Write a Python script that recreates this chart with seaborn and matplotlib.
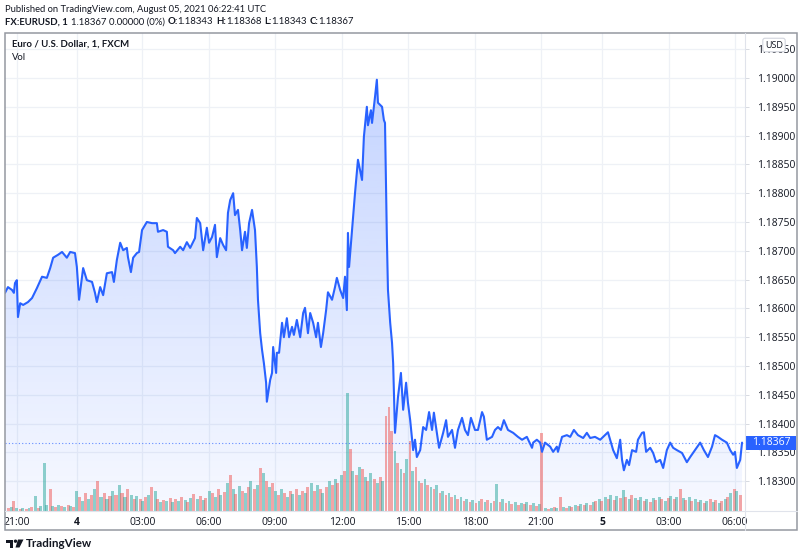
import numpy as np
import pandas as pd
import matplotlib
matplotlib.use("Agg")
import matplotlib.pyplot as plt
import matplotlib.transforms as mtransforms
from matplotlib.patches import Polygon, Rectangle, Circle
import seaborn as sns

# ---------------- data (1-minute bar index since chart start, close price) ----------------
t1 = [0, 8, 19, 24, 27, 32, 35, 41, 49, 62,
      73, 86, 100, 113, 122, 130, 143, 154, 167, 176,
      189, 194, 200, 211, 221, 235, 243, 248, 257, 265,
      275, 289, 294, 302, 311, 319, 329, 332, 340, 346,
      356, 362, 370, 383, 397, 410, 413, 427, 437, 440,
      454, 459, 473, 481, 491, 500, 513]
p1 = [1.18627, 1.18637, 1.18632, 1.18627, 1.18644, 1.18649, 1.18585, 1.18609, 1.18606, 1.18611,
      1.18618, 1.18635, 1.18655, 1.18653, 1.18670, 1.18688, 1.18693, 1.18698, 1.18688, 1.18698,
      1.18696, 1.18672, 1.18615, 1.18670, 1.18649, 1.18646, 1.18627, 1.18611, 1.18637, 1.18623,
      1.18661, 1.18663, 1.18646, 1.18684, 1.18714, 1.18701, 1.18705, 1.18689, 1.18663, 1.18688,
      1.18696, 1.18698, 1.18736, 1.18750, 1.18748, 1.18748, 1.18733, 1.18736, 1.18733, 1.18707,
      1.18701, 1.18696, 1.18707, 1.18701, 1.18715, 1.18705, 1.18722]

t2 = [518, 527, 535, 545, 551, 559, 567, 572, 581, 589,
      597, 602, 608, 616, 621, 629, 635, 640, 648, 653,
      659, 667, 675, 680, 683, 689, 694, 699, 705, 707,
      716, 721, 724, 732, 734, 740, 748, 753, 761, 767,
      775, 780, 788, 797, 805, 810, 818, 824, 832, 840,
      845, 853, 859, 867, 872, 883, 891, 896, 905, 913,
      918]
p2 = [1.18757, 1.18748, 1.18701, 1.18740, 1.18714, 1.18724, 1.18745, 1.18689, 1.18722, 1.18710,
      1.18701, 1.18766, 1.18788, 1.18800, 1.18762, 1.18771, 1.18736, 1.18701, 1.18733, 1.18705,
      1.18748, 1.18771, 1.18736, 1.18672, 1.18615, 1.18557, 1.18528, 1.18505, 1.18471, 1.18438,
      1.18476, 1.18488, 1.18533, 1.18488, 1.18523, 1.18523, 1.18575, 1.18550, 1.18583, 1.18550,
      1.18568, 1.18554, 1.18580, 1.18550, 1.18592, 1.18601, 1.18557, 1.18592, 1.18575, 1.18550,
      1.18575, 1.18533, 1.18557, 1.18597, 1.18628, 1.18615, 1.18637, 1.18653, 1.18632, 1.18618,
      1.18655]

t3 = [923, 926, 929, 937, 945, 953, 964, 969, 977, 980,
      988, 991, 999, 1004, 1007, 1018, 1023, 1026, 1031, 1034,
      1040, 1045, 1048, 1053, 1061, 1069, 1075, 1083, 1088, 1094,
      1102, 1107, 1112, 1121, 1129, 1137, 1145, 1153, 1158, 1166,
      1172, 1183, 1191, 1196, 1207, 1215, 1223, 1234, 1242, 1250,
      1258, 1269, 1277, 1288, 1293, 1301, 1315, 1323, 1331, 1339,
      1347, 1358, 1372, 1385, 1396, 1409, 1423]
p3 = [1.18597, 1.18731, 1.18672, 1.18736, 1.18800, 1.18858, 1.18823, 1.18898, 1.18950, 1.18918,
      1.18944, 1.18922, 1.18967, 1.18997, 1.18957, 1.18950, 1.18927, 1.18922, 1.18724, 1.18632,
      1.18575, 1.18540, 1.18505, 1.18384, 1.18446, 1.18488, 1.18424, 1.18471, 1.18436, 1.18406,
      1.18354, 1.18372, 1.18342, 1.18354, 1.18394, 1.18389, 1.18420, 1.18389, 1.18419, 1.18384,
      1.18358, 1.18384, 1.18406, 1.18377, 1.18389, 1.18358, 1.18389, 1.18410, 1.18389, 1.18380,
      1.18410, 1.18389, 1.18389, 1.18420, 1.18412, 1.18372, 1.18377, 1.18389, 1.18394, 1.18389,
      1.18406, 1.18389, 1.18384, 1.18377, 1.18372, 1.18377, 1.18358]

t4 = [1426, 1436, 1445, 1450, 1458, 1472, 1480, 1490, 1493, 1504,
      1517, 1526, 1536, 1547, 1561, 1571, 1580, 1593, 1607, 1615,
      1628, 1634, 1642, 1652, 1661, 1666, 1671, 1679, 1685, 1693,
      1704, 1709, 1720, 1725, 1731, 1742, 1750, 1758, 1769, 1777,
      1787, 1796, 1804, 1814, 1828, 1841, 1850, 1863, 1877, 1887,
      1898, 1909, 1917, 1925, 1936, 1949, 1958, 1966, 1971, 1976,
      1985, 1990]
p4 = [1.18367, 1.18372, 1.18367, 1.18351, 1.18367, 1.18360, 1.18351, 1.18360, 1.18351, 1.18377,
      1.18380, 1.18377, 1.18389, 1.18380, 1.18375, 1.18384, 1.18375, 1.18377, 1.18372, 1.18377,
      1.18385, 1.18372, 1.18354, 1.18340, 1.18372, 1.18337, 1.18319, 1.18337, 1.18328, 1.18354,
      1.18351, 1.18372, 1.18384, 1.18385, 1.18351, 1.18358, 1.18349, 1.18333, 1.18337, 1.18323,
      1.18354, 1.18367, 1.18358, 1.18354, 1.18349, 1.18333, 1.18342, 1.18354, 1.18367, 1.18354,
      1.18342, 1.18360, 1.18380, 1.18377, 1.18372, 1.18367, 1.18354, 1.18346, 1.18351, 1.18323,
      1.18337, 1.18367]

# volume per 8.1-minute bucket (arbitrary units)
volume = [3, 4, 10, 3, 2, 3, 2, 3, 4, 15, 3, 5, 48, 6, 22, 5, 4, 6, 5, 4, 6, 5, 4,
          20, 14, 10, 18, 12, 16, 22, 30, 14, 18, 12, 15, 20, 16, 26, 18, 14, 22, 16, 12, 15,
          12, 10, 14, 16, 24, 20, 12, 9, 11, 10, 13, 9, 12, 10, 14, 11, 9, 13, 17, 12, 15, 11, 13, 20,
          18, 14, 22, 16, 19, 28, 36, 22, 17, 25, 20, 18, 24, 30, 22, 26, 43,
          38, 30, 24, 28, 20, 16, 22, 18, 14, 20, 17, 22, 16, 20, 18, 24,
          28, 20, 26, 22, 18, 24, 30, 26, 32, 28, 36, 40,
          118, 62, 40, 36, 44, 42, 34, 30, 38, 32, 28, 34, 30,
          95, 104, 80, 60, 48, 42, 38, 52, 70, 40, 44, 30, 28, 32, 26, 24, 22, 26,
          18, 20, 16, 18, 14, 16, 12, 14, 10, 12, 9, 11, 8, 10, 12, 9, 11, 8, 10, 27,
          9, 12, 8, 10, 7, 9, 6, 8, 7, 9, 6, 8, 5, 7,
          78, 3, 2, 3, 4, 3, 14, 4, 3, 5, 4, 6, 5, 7, 6, 8, 6, 9, 10,
          12, 10, 14, 12, 16, 11, 15, 13, 21, 14, 12, 16, 13, 11, 14, 10, 12, 9, 13, 11,
          14, 12, 10, 13, 15, 12, 14, 22, 13, 11, 14, 10, 12, 9, 11, 8, 10, 12, 9, 11,
          8, 10, 12, 14, 18, 22, 20, 16]
vol_bucket_minutes = 8.1
vol_teal_override = [12, 113]
vol_red_override = [114, 126, 127, 128, 178]

tick_bars = [32, 194, 371, 551, 729, 910, 1088, 1269, 1447, 1612, 1793, 1971]
tick_labels = ["21:00", "4", "03:00", "06:00", "09:00", "12:00", "15:00", "18:00", "21:00", "5", "03:00", "06:00"]
bold_ticks = ["4", "5"]
price_ticks = [1.18300, 1.18350, 1.18400, 1.18450, 1.18500, 1.18550, 1.18600, 1.18650,
               1.18700, 1.18750, 1.18800, 1.18850, 1.18900, 1.18950, 1.19000, 1.19050]
last_price = 1.18367

header_line1 = "Published on TradingView.com, August 05, 2021 06:22:41 UTC"
header_line2 = [("FX:EURUSD, 1", True, 3), ("1.18367 0.00000 (0%)", False, 3),
                ("O:", True, 0), ("1.18343", False, 3), ("H:", True, 0), ("1.18368", False, 3),
                ("L:", True, 0), ("1.18343", False, 3), ("C:", True, 0), ("1.18367", False, 0)]
chart_title = "Euro / U.S. Dollar, 1, FXCM"

# ---------------- assemble ----------------
bar = np.array(t1 + t2 + t3 + t4, dtype=float)
price = np.array(p1 + p2 + p3 + p4)
df = pd.DataFrame({"bar": bar, "close": price})
volume = np.array(volume, dtype=float)
vol_t = (np.arange(len(volume)) + 1) * vol_bucket_minutes

sns.set_theme(style="white")
plt.rcParams["font.family"] = ["Open Sans", "DejaVu Sans"]
HFONT = ["Lato", "DejaVu Sans"]

W, H = 800, 558
fig = plt.figure(figsize=(8, 5.58), dpi=100)
fig.patch.set_facecolor("white")
PX = mtransforms.Affine2D().scale(1 / W, -1 / H).translate(0, 1) + fig.transFigure
renderer = fig.canvas.get_renderer()

TEXT = "#131722"
BLUE = "#2962ff"
GRID = "#eef1f6"

left, right, top, bottom = 5, 745, 33, 511
rect = [left / W, 1 - bottom / H, (right - left) / W, (bottom - top) / H]
ax = fig.add_axes(rect)
ax_v = ax.twinx()
ax_l = ax.twinx()

xlim = (0, 1998)
ylim = (1.182483, 1.190781)
for a in (ax, ax_l):
    a.set_xlim(*xlim)
    a.set_ylim(*ylim)
ax_v.set_ylim(0, 478)

# grid
for p in price_ticks:
    ax.axhline(p, color=GRID, lw=0.9, zorder=0.5)
for tb in tick_bars:
    ax.axvline(tb, color=GRID, lw=0.9, zorder=0.5)

# gradient area fill
verts = np.vstack([[bar[0], ylim[0]], np.column_stack([bar, price]), [bar[-1], ylim[0]]])
poly = Polygon(verts, closed=True, fc="none", ec="none")
ax.add_patch(poly)
n = 256
rgba = np.zeros((n, 1, 4))
rgba[:, 0, 0] = 41 / 255
rgba[:, 0, 1] = 98 / 255
rgba[:, 0, 2] = 255 / 255
rgba[:, 0, 3] = np.linspace(0.30, 0.04, n)
im = ax.imshow(rgba, extent=[xlim[0], xlim[1], ylim[0], ylim[1]], origin="upper",
               aspect="auto", zorder=1, interpolation="bilinear")
im.set_clip_path(poly)
ax.set_xlim(*xlim)
ax.set_ylim(*ylim)

# volume
colors = []
for k in range(len(volume)):
    c = "#26a69a" if k % 2 else "#ef5350"
    if k in vol_teal_override:
        c = "#26a69a"
    if k in vol_red_override:
        c = "#ef5350"
    colors.append(c)
ax_v.bar(vol_t, volume, width=vol_bucket_minutes, color=colors, alpha=0.5, linewidth=0)
ax_v.set_xlim(*xlim)

# price line
sns.lineplot(data=df, x="bar", y="close", ax=ax_l, color=BLUE, linewidth=1.5,
             estimator=None, sort=False)
ax_l.axhline(last_price, color=BLUE, lw=0.8, ls=(0, (1, 2)), alpha=0.7, zorder=1)
ax_l.set_xlim(*xlim)
ax_l.set_ylim(*ylim)
ax_l.set_xlabel("")
ax_l.set_ylabel("")

# axes styling
for a in (ax, ax_v, ax_l):
    for s in a.spines.values():
        s.set_visible(False)
ax.set_facecolor("white")
ax.tick_params(left=False, labelleft=False)
ax_v.tick_params(right=False, labelright=False, left=False, labelleft=False)
ax.set_xticks(tick_bars)
ax.set_xticklabels(tick_labels)
ax.tick_params(axis="x", length=0, pad=4, labelsize=7.5, labelcolor=TEXT)
for lab in ax.get_xticklabels():
    if lab.get_text() in bold_ticks:
        lab.set_fontweight("bold")
ax_l.set_yticks(price_ticks)
ax_l.set_yticklabels([f"{p:.5f}" for p in price_ticks])
ax_l.tick_params(axis="y", right=True, labelright=True, length=3, width=0.6,
                 color="#d1d4dc", pad=6, labelsize=7.5, labelcolor=TEXT)

# frame and separators
fig.add_artist(Rectangle((5, 33), 792, 497, transform=PX, fill=False, ec="#9598a1", lw=1.1))
fig.add_artist(plt.Line2D([5, 797], [511, 511], transform=PX, color="#e0e3eb", lw=0.8))
fig.add_artist(plt.Line2D([745, 745], [33, 530], transform=PX, color="#e0e3eb", lw=0.8))

# last price label
blend = mtransforms.blended_transform_factory(fig.transFigure, ax_l.transData)
lbl = Rectangle((746 / W, last_price - 0.000122), 50 / W, 0.000244, transform=blend,
                fc=BLUE, ec="none", clip_on=False, zorder=10)
ax_l.add_patch(lbl)
ax_l.text(771 / W, last_price, f"{last_price:.5f}", transform=blend, color="white",
          ha="center", va="center", fontsize=7.5, zorder=11, clip_on=False)

# USD box
fig.text(774, 45, "USD", transform=PX, ha="center", va="center", fontsize=6.5, color=TEXT,
         bbox=dict(boxstyle="round,pad=0.25", fc="white", ec="#d1d4dc", lw=0.8))


def fitted_text(x, y, s, target_w, size, **kw):
    t = fig.text(x, y, s, transform=PX, fontsize=size, family=HFONT, color=TEXT,
                 va="center", ha="left", **kw)
    w = t.get_window_extent(renderer).width
    t.set_fontsize(size * target_w / w)
    return t


# header texts
fitted_text(5, 9, header_line1, 261, 7.5)
size2 = 7.5
xs = 5
items = []
for txt, b, gap in header_line2:
    t = fig.text(xs, 22, txt, transform=PX, fontsize=size2, family=HFONT, color=TEXT,
                 va="center", ha="left", fontweight="bold" if b else "normal")
    items.append((t, gap))
    xs = t.get_window_extent(renderer).x1 + gap
scale = (353 - 5) / (xs - 5)
xs = 5
for t, gap in items:
    t.set_fontsize(size2 * scale)
    t.set_x(xs)
    xs = t.get_window_extent(renderer).x1 + gap * scale
fitted_text(12, 44, chart_title, 116, 7.5, fontweight="bold")
fitted_text(12, 57, "Vol", 14, 7.5)

# TradingView logo
fig.add_artist(Rectangle((6, 539.5), 7, 3, transform=PX, fc=TEXT, ec="none"))
fig.add_artist(Rectangle((9.5, 539.5), 3.5, 8, transform=PX, fc=TEXT, ec="none"))
fig.add_artist(Circle((15.5, 541.2), 1.7, transform=PX, fc=TEXT, ec="none"))
fig.add_artist(Polygon([[18, 539.5], [23.5, 539.5], [19.5, 547.5], [15.5, 547.5]],
                       closed=True, transform=PX, fc=TEXT, ec="none"))
fitted_text(26, 543.5, "TradingView", 66, 9.5, fontweight="bold")

fig.savefig("out.png", dpi=100)
